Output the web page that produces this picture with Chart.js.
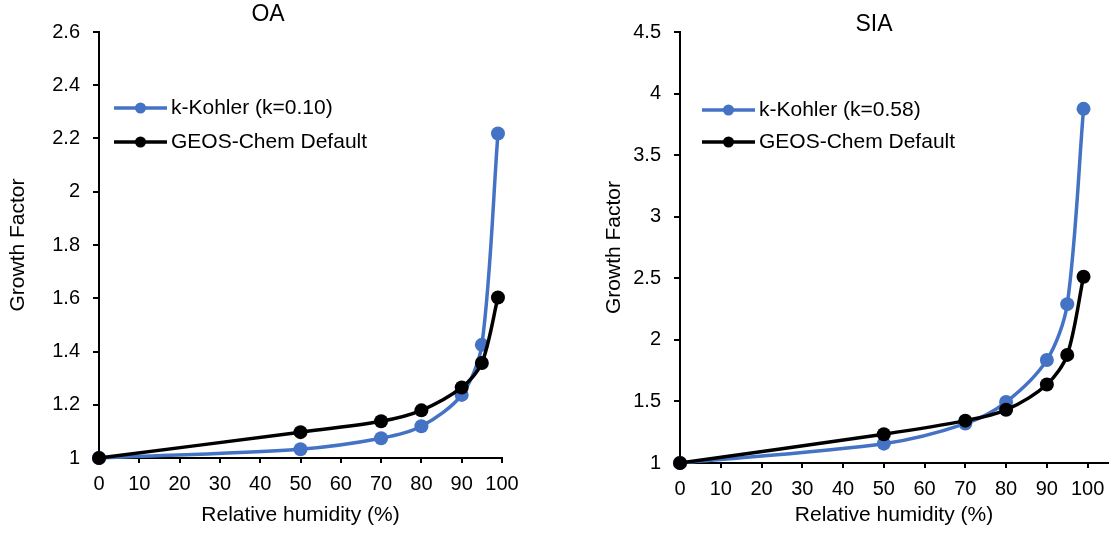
<!DOCTYPE html>
<html>
<head>
<meta charset="utf-8">
<title>Growth factor vs relative humidity</title>
<script src="https://cdn.jsdelivr.net/npm/chart.js@4.4.0/dist/chart.umd.min.js"></script>
<style>
  html, body { margin: 0; padding: 0; background: #fff; overflow: hidden; }
  body { position: relative; width: 1114px; height: 533px; }
  .panel { position: absolute; top: 0; }
  #oaPanel { left: 0; }
  #siaPanel { left: 596px; }
</style>
</head>
<body>
<div class="panel" id="oaPanel"><canvas id="oaChart" width="536" height="533"></canvas></div>
<div class="panel" id="siaPanel"><canvas id="siaChart" width="556" height="533"></canvas></div>

<script>
// relative humidity (%) where the growth factor was evaluated
const rh = [0, 50, 70, 80, 90, 95, 99];

// organic aerosol
const oaKohler = [1, 1.033, 1.074, 1.119, 1.237, 1.425, 2.219];
const oaGeos = [1, 1.097, 1.138, 1.179, 1.265, 1.357, 1.603];

// secondary inorganic aerosol
const siaKohler = [1, 1.157, 1.32, 1.495, 1.837, 2.29, 3.876];
const siaGeos = [1, 1.234, 1.344, 1.432, 1.638, 1.878, 2.513];

// axis ticks
const rhTicks = [0, 10, 20, 30, 40, 50, 60, 70, 80, 90, 100];
const oaGfTicks = [1, 1.2, 1.4, 1.6, 1.8, 2, 2.2, 2.4, 2.6];
const siaGfTicks = [1, 1.5, 2, 2.5, 3, 3.5, 4, 4.5];

const FONT = "'Liberation Sans', Arial, sans-serif";
const BLUE = '#4472C4';
const BLACK = '#000000';

// panel title, centred on the whole canvas rather than on the plot area
const panelTitle = {
  id: 'panelTitle',
  afterDraw(chart, args, opts) {
    const { ctx, chartArea } = chart;
    ctx.save();
    ctx.font = `${opts.size}px ${FONT}`;
    ctx.fillStyle = BLACK;
    ctx.textAlign = 'center';
    ctx.textBaseline = 'middle';
    ctx.fillText(opts.text, chart.width / 2, chartArea.top - opts.lift);
    ctx.restore();
  }
};

// legend drawn inside the plot area: line with a marker, then the label
const insideLegend = {
  id: 'insideLegend',
  afterDraw(chart, args, opts) {
    const { ctx, chartArea } = chart;
    ctx.save();
    ctx.font = `${opts.size}px ${FONT}`;
    ctx.textBaseline = 'middle';
    ctx.textAlign = 'left';
    chart.data.datasets.forEach((ds, i) => {
      const x0 = chartArea.left + opts.left;
      const y = chartArea.top + opts.top + i * opts.rowGap;
      ctx.strokeStyle = ds.borderColor;
      ctx.lineWidth = 3.5;
      ctx.beginPath();
      ctx.moveTo(x0, y);
      ctx.lineTo(x0 + opts.lineLength, y);
      ctx.stroke();
      ctx.fillStyle = ds.borderColor;
      ctx.beginPath();
      ctx.arc(x0 + opts.lineLength / 2, y, opts.markerRadius, 0, Math.PI * 2);
      ctx.fill();
      ctx.fillStyle = BLACK;
      ctx.fillText(ds.label, x0 + opts.lineLength + opts.textGap, y);
    });
    ctx.restore();
  }
};

function series(ys) {
  return rh.map((x, i) => ({ x: x, y: ys[i] }));
}

function makeChart(id, cfg) {
  const tickFont = { family: FONT, size: 20 };
  const axisTitleFont = { family: FONT, size: 21 };

  return new Chart(document.getElementById(id), {
    type: 'scatter',
    data: {
      datasets: [
        {
          label: cfg.kohlerLabel,
          data: series(cfg.kohler),
          borderColor: BLUE,
          backgroundColor: BLUE,
          showLine: true,
          clip: false,
          order: 1
        },
        {
          label: 'GEOS-Chem Default',
          data: series(cfg.geos),
          borderColor: BLACK,
          backgroundColor: BLACK,
          showLine: true,
          clip: false,
          order: 0
        }
      ]
    },
    options: {
      responsive: false,
      animation: false,
      events: [],
      layout: { padding: { top: 32, right: cfg.padRight, left: 0, bottom: 0 } },
      elements: {
        line: { borderWidth: 3.5, tension: 0.3 },
        point: { radius: 7, borderWidth: 0 }
      },
      plugins: {
        legend: { display: false },
        tooltip: { enabled: false },
        panelTitle: { text: cfg.title, size: 23, lift: cfg.titleLift },
        insideLegend: {
          size: 21, left: cfg.legendLeft, top: cfg.legendTop, rowGap: cfg.legendGap,
          lineLength: 53, markerRadius: 5.5, textGap: 4
        }
      },
      scales: {
        x: {
          type: 'linear',
          min: 0,
          max: cfg.xMax,
          afterBuildTicks: s => { s.ticks = rhTicks.map(v => ({ value: v })); },
          afterFit: s => { s.height = cfg.xAxisHeight; },
          grid: { drawOnChartArea: false, drawTicks: true, tickLength: 5, color: BLACK, lineWidth: 2 },
          border: { display: true, color: BLACK, width: 2 },
          ticks: { font: tickFont, color: BLACK, padding: 9, maxRotation: 0, callback: v => String(v) },
          title: {
            display: true, text: 'Relative humidity (%)', font: axisTitleFont, color: BLACK,
            padding: { top: 0, bottom: 5 }
          }
        },
        y: {
          type: 'linear',
          min: cfg.yTicks[0],
          max: cfg.yTicks[cfg.yTicks.length - 1],
          afterBuildTicks: s => { s.ticks = cfg.yTicks.map(v => ({ value: v })); },
          afterFit: s => { s.width = cfg.yAxisWidth; },
          grid: { drawOnChartArea: false, drawTicks: true, tickLength: 6, color: BLACK, lineWidth: 2 },
          border: { display: true, color: BLACK, width: 2 },
          ticks: { font: tickFont, color: BLACK, padding: 13, callback: v => String(v) },
          title: {
            display: true, text: 'Growth Factor', font: axisTitleFont, color: BLACK,
            padding: { top: 6, bottom: 0 }
          }
        }
      }
    },
    plugins: [panelTitle, insideLegend]
  });
}

makeChart('oaChart', {
  title: 'OA',
  titleLift: 17,
  kohlerLabel: 'k-Kohler (k=0.10)',
  kohler: oaKohler,
  geos: oaGeos,
  yTicks: oaGfTicks,
  xMax: 100,
  padRight: 34,
  yAxisWidth: 99,
  xAxisHeight: 75,
  legendLeft: 15,
  legendTop: 76,
  legendGap: 34
});

makeChart('siaChart', {
  title: 'SIA',
  titleLift: 7,
  kohlerLabel: 'k-Kohler (k=0.58)',
  kohler: siaKohler,
  geos: siaGeos,
  yTicks: siaGfTicks,
  xMax: 105,
  padRight: 44,
  yAxisWidth: 84,
  xAxisHeight: 70,
  legendLeft: 22,
  legendTop: 78,
  legendGap: 32
});
</script>
</body>
</html>
